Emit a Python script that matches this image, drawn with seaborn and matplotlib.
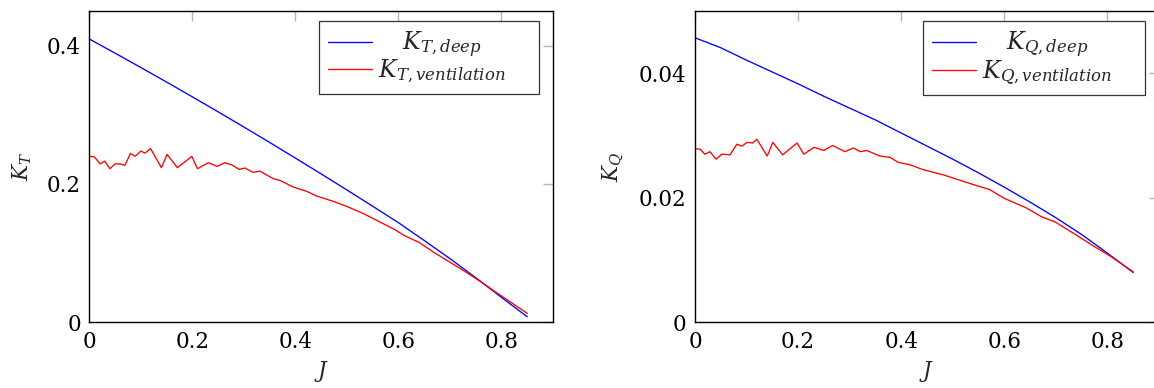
import matplotlib
matplotlib.use("Agg")
import matplotlib.pyplot as plt
import pandas as pd
import seaborn as sns

# Advance coefficient grid for the deep-water (open water) curves
J_deep = [0.00, 0.05, 0.10, 0.15, 0.20, 0.25, 0.30, 0.35, 0.40, 0.45,
          0.50, 0.55, 0.60, 0.65, 0.70, 0.75, 0.80, 0.85]
KT_deep = [0.4095, 0.3891, 0.3683, 0.3473, 0.3259, 0.3043, 0.2823, 0.2600,
           0.2374, 0.2145, 0.1913, 0.1678, 0.1440, 0.1183, 0.0920, 0.0645,
           0.0360, 0.0080]
KQ_deep = [0.0457, 0.0441, 0.0421, 0.0402, 0.0383, 0.0363, 0.0344, 0.0325,
           0.0304, 0.0283, 0.0262, 0.0240, 0.0217, 0.0193, 0.0168, 0.0141,
           0.0111, 0.0080]

# Ventilated thrust coefficient
J_vent_T = [0.000, 0.010, 0.021, 0.030, 0.040, 0.050, 0.060, 0.069, 0.080,
            0.089, 0.100, 0.108, 0.119, 0.140, 0.151, 0.171, 0.199, 0.210,
            0.231, 0.248, 0.263, 0.276, 0.291, 0.302, 0.318, 0.331, 0.357,
            0.370, 0.396, 0.422, 0.441, 0.473, 0.499, 0.532, 0.564, 0.593,
            0.610, 0.641, 0.668, 0.693, 0.727, 0.762, 0.797, 0.850]
KT_vent = [0.2400, 0.2390, 0.2290, 0.2330, 0.2220, 0.2290, 0.2290, 0.2270,
           0.2440, 0.2400, 0.2475, 0.2446, 0.2510, 0.2235, 0.2427, 0.2235,
           0.2398, 0.2220, 0.2307, 0.2254, 0.2307, 0.2278, 0.2210, 0.2230,
           0.2167, 0.2186, 0.2076, 0.2052, 0.1955, 0.1893, 0.1826, 0.1750,
           0.1677, 0.1572, 0.1450, 0.1340, 0.1260, 0.1150, 0.1015, 0.0900,
           0.0745, 0.0575, 0.0395, 0.0129]

# Ventilated torque coefficient
J_vent_Q = [0.000, 0.010, 0.019, 0.029, 0.041, 0.052, 0.068, 0.081, 0.091,
            0.101, 0.112, 0.120, 0.140, 0.151, 0.170, 0.198, 0.211, 0.231,
            0.250, 0.267, 0.291, 0.307, 0.321, 0.333, 0.359, 0.378, 0.394,
            0.417, 0.443, 0.481, 0.507, 0.533, 0.572, 0.600, 0.642, 0.671,
            0.699, 0.738, 0.770, 0.806, 0.850]
KQ_vent = [0.0279, 0.0278, 0.0270, 0.0274, 0.0262, 0.0270, 0.0269, 0.0286,
           0.0283, 0.0289, 0.0288, 0.0294, 0.0267, 0.0289, 0.0269, 0.0288,
           0.0270, 0.0281, 0.0276, 0.0284, 0.0274, 0.0280, 0.0274, 0.0276,
           0.0267, 0.0265, 0.0257, 0.0253, 0.0245, 0.0237, 0.0230, 0.0223,
           0.0213, 0.0199, 0.0184, 0.0170, 0.0161, 0.0141, 0.0124, 0.0106,
           0.0081]

x_ticks = [0, 0.2, 0.4, 0.6, 0.8]
x_ticklabels = ["0", "0.2", "0.4", "0.6", "0.8"]
kt_ticks = [0, 0.2, 0.4]
kt_ticklabels = ["0", "0.2", "0.4"]
kq_ticks = [0, 0.02, 0.04]
kq_ticklabels = ["0", "0.02", "0.04"]

labels_T = [r"$K_{T,deep}$", r"$K_{T,ventilation}$"]
labels_Q = [r"$K_{Q,deep}$", r"$K_{Q,ventilation}$"]

sns.set_theme(style="white")
plt.rcParams.update({
    "font.family": ["DejaVu Serif"],
    "mathtext.fontset": "custom",
    "mathtext.rm": "DejaVu Serif",
    "mathtext.it": "DejaVu Serif:italic",
    "mathtext.bf": "DejaVu Serif:bold",
    "font.size": 15.5,
})

TICK_FS = 15.5
LEG_FS = 17

W, H = 1154, 388
fig = plt.figure(figsize=(W / 100, H / 100), dpi=100)
ax_bottom, ax_top = 322.3, 11.0
ax1 = fig.add_axes([89.3 / W, (H - ax_bottom) / H, (553.0 - 89.3) / W,
                    (ax_bottom - ax_top) / H])
ax2 = fig.add_axes([695.0 / W, (H - ax_bottom) / H, (1159.0 - 695.0) / W,
                    (ax_bottom - ax_top) / H])

deep = pd.DataFrame({"J": J_deep, "KT": KT_deep, "KQ": KQ_deep})
vent_T = pd.DataFrame({"J": J_vent_T, "KT": KT_vent})
vent_Q = pd.DataFrame({"J": J_vent_Q, "KQ": KQ_vent})

sns.lineplot(data=deep, x="J", y="KT", ax=ax1, color="#0000ff", lw=0.95,
             label=labels_T[0])
sns.lineplot(data=vent_T, x="J", y="KT", ax=ax1, color="#ff0000", lw=0.95,
             label=labels_T[1])
sns.lineplot(data=deep, x="J", y="KQ", ax=ax2, color="#0000ff", lw=0.95,
             label=labels_Q[0])
sns.lineplot(data=vent_Q, x="J", y="KQ", ax=ax2, color="#ff0000", lw=0.95,
             label=labels_Q[1])

legends = []
# (axes, y max, y ticks, y tick labels, y label, y label x, legend px width)
for ax, ymax, yt, ytl, ylab, ylx, leg_w in [
        (ax1, 0.45, kt_ticks, kt_ticklabels, r"$K_T$", -0.12, 220.0),
        (ax2, 0.05, kq_ticks, kq_ticklabels, r"$K_Q$", -0.148, 222.0)]:
    ax.set_xlim(0, 0.9)
    ax.set_ylim(0, ymax)
    ax.set_xticks(x_ticks)
    ax.set_xticklabels(x_ticklabels)
    ax.set_yticks(yt)
    ax.set_yticklabels(ytl)
    ax.tick_params(direction="in", length=7.5, width=1.0, color="#b4b4b4",
                   top=True, right=True, labelsize=TICK_FS, pad=6.0,
                   labelcolor="black")
    for s in ax.spines.values():
        s.set_color("black")
        s.set_linewidth(1.0)
    ax.set_xlabel(r"$J$", fontsize=TICK_FS)
    ax.set_ylabel(ylab, fontsize=TICK_FS)
    ax.xaxis.set_label_coords(0.5, -0.118)
    ax.yaxis.set_label_coords(ylx, 0.5)

    bbox = ax.get_position()
    axw, axh = bbox.width * W, bbox.height * H
    right = 1 - 14 / axw
    top = 1 - 10 / axh
    leg = ax.legend(loc="upper right", mode="expand",
                    bbox_to_anchor=(right - leg_w / axw, 0.5,
                                    leg_w / axw, top - 0.5),
                    borderaxespad=0, frameon=True, fancybox=False,
                    framealpha=1, edgecolor="#333333", fontsize=LEG_FS,
                    handlelength=1.9, handletextpad=0.26, borderpad=0.36,
                    labelspacing=-0.09)
    leg.get_frame().set_linewidth(0.9)
    legends.append(leg)

# Centre each legend label on the widest one
fig.canvas.draw()
renderer = fig.canvas.get_renderer()
for leg in legends:
    texts = leg.get_texts()
    widths = [t.get_window_extent(renderer).width for t in texts]
    widest = max(widths)
    for t, w in zip(texts, widths):
        t.set_position(((widest - w) / 2, 0))

fig.savefig("out.png", dpi=100)
